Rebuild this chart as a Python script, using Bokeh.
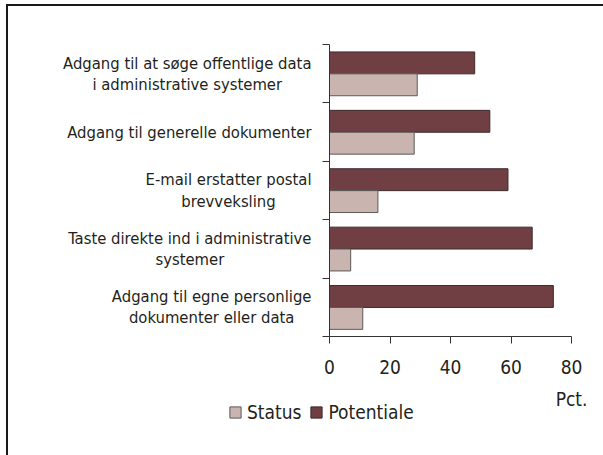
from bokeh.plotting import figure
from bokeh.layouts import column, row
from bokeh.models import (Range1d, FixedTicker, LinearAxis, Legend, LegendItem,
                          Label, ColumnDataSource)
from bokeh.core.properties import value
from bokeh.embed import file_html
from bokeh.resources import INLINE

categories = [
    "Adgang til at søge offentlige data\ni administrative systemer",
    "Adgang til generelle dokumenter",
    "E-mail erstatter postal\nbrevveksling",
    "Taste direkte ind i administrative\nsystemer",
    "Adgang til egne personlige\ndokumenter eller data",
]
status = [29, 28, 16, 7, 11]
potentiale = [48, 53, 59, 67, 74]
x_ticks = [0, 20, 40, 60, 80]
series_names = ["Status", "Potentiale"]
unit_label = "Pct."

FONT = "DejaVu Sans Condensed"
TXT = "#231f20"
C_STATUS = "#c9b4af"
C_POT = "#703f43"
EDGE_POT = "#3b2a2c"
EDGE_ST = "#5a5a5a"
AX = "#333333"

n = len(categories)
pos = [n - 1 - i + 0.5 for i in range(n)]
src = ColumnDataSource(dict(
    y_pot=[p_ + 0.185 for p_ in pos],
    y_st=[p_ - 0.19 for p_ in pos],
    pot=potentiale, st=status, cat=categories, ypos=pos,
))

H_TOP, H_MAIN, H_BOT = 38, 379, 70
W_LAB, W_MAIN = 313, 282

# ---- category label panel
pl = figure(width=W_LAB, height=H_MAIN, output_backend="svg", toolbar_location=None,
            x_range=Range1d(0, W_LAB), y_range=Range1d(0, n),
            min_border_left=0, min_border_right=0, min_border_top=H_TOP,
            min_border_bottom=49, x_axis_type=None, y_axis_type=None)
pl.outline_line_color = None
pl.grid.visible = False
pl.text(x=W_LAB - 10, y="ypos", text="cat", source=src, anchor="center_right",
        text_align="center", text_baseline="middle", text_font=value(FONT),
        text_font_size="16.5px", text_color=TXT, text_line_height=1.12)

# ---- main bar panel
p = figure(width=W_MAIN, height=H_MAIN, output_backend="svg", toolbar_location=None,
           x_range=Range1d(0, 80), y_range=pl.y_range,
           min_border_left=8, min_border_top=H_TOP, min_border_bottom=49,
           min_border_right=32, x_axis_type=None, y_axis_type=None)
p.outline_line_color = None
p.grid.visible = False

r_pot = p.hbar(y="y_pot", right="pot", left=0, height=0.375, source=src,
               fill_color=C_POT, line_color=EDGE_POT, line_width=1)
r_st = p.hbar(y="y_st", right="st", left=0, height=0.375, source=src,
              fill_color=C_STATUS, line_color=EDGE_ST, line_width=1)

# category boundaries as (minor) tick marks, no numeric labels
yax = LinearAxis(ticker=FixedTicker(ticks=[], minor_ticks=list(range(n + 1))))
yax.major_label_standoff = 0
yax.major_tick_out = 0
yax.major_tick_in = 0
yax.minor_tick_out = 7
yax.minor_tick_in = 0
yax.minor_tick_line_color = AX
yax.axis_line_color = AX
p.add_layout(yax, "left")

xax = LinearAxis(ticker=FixedTicker(ticks=x_ticks, minor_ticks=[]))
xax.major_tick_out = 7
xax.major_tick_in = 0
xax.major_tick_line_color = AX
xax.axis_line_color = AX
xax.major_label_standoff = 16
xax.major_label_text_font = FONT
xax.major_label_text_font_size = "19px"
xax.major_label_text_color = TXT
p.add_layout(xax, "below")

# ---- legend panel
W_ALL = W_LAB + W_MAIN
pg = figure(width=W_ALL, height=H_BOT, output_backend="svg", toolbar_location=None,
            x_range=Range1d(0, W_ALL), y_range=Range1d(0, H_BOT),
            min_border=0, x_axis_type=None, y_axis_type=None)
pg.outline_line_color = None
pg.grid.visible = False
# legend proxies (kept outside the visible range)
proxy = ColumnDataSource(dict(y=[-1000], right=[1]))
g_st = pg.hbar(y="y", right="right", left=0, height=1, source=proxy,
               fill_color=C_STATUS, line_color=EDGE_ST, line_width=1)
g_pot = pg.hbar(y="y", right="right", left=0, height=1, source=proxy,
                fill_color=C_POT, line_color=EDGE_POT, line_width=1)
legend = Legend(items=[LegendItem(label=series_names[0], renderers=[g_st]),
                       LegendItem(label=series_names[1], renderers=[g_pot])],
                orientation="horizontal", location=(220, 32),
                glyph_width=14, glyph_height=14, label_standoff=5, spacing=8,
                padding=0, margin=0, border_line_color=None,
                background_fill_alpha=0, label_text_font=FONT,
                label_text_font_size="19px", label_text_color=TXT,
                label_height=14)
pg.add_layout(legend, "center")
pg.add_layout(Label(x=579, y=57, x_units="screen", y_units="screen",
                    text=unit_label, text_align="right", text_baseline="middle",
                    text_font=FONT, text_font_size="19px", text_color=TXT))

layout = column(row(pl, p), pg, styles={
    "margin-left": "6px", "margin-top": "4px",
    "border-left": "2px solid #1a1a1a", "border-top": "2px solid #1a1a1a"})

open("out.html", "w").write(file_html(layout, INLINE))
